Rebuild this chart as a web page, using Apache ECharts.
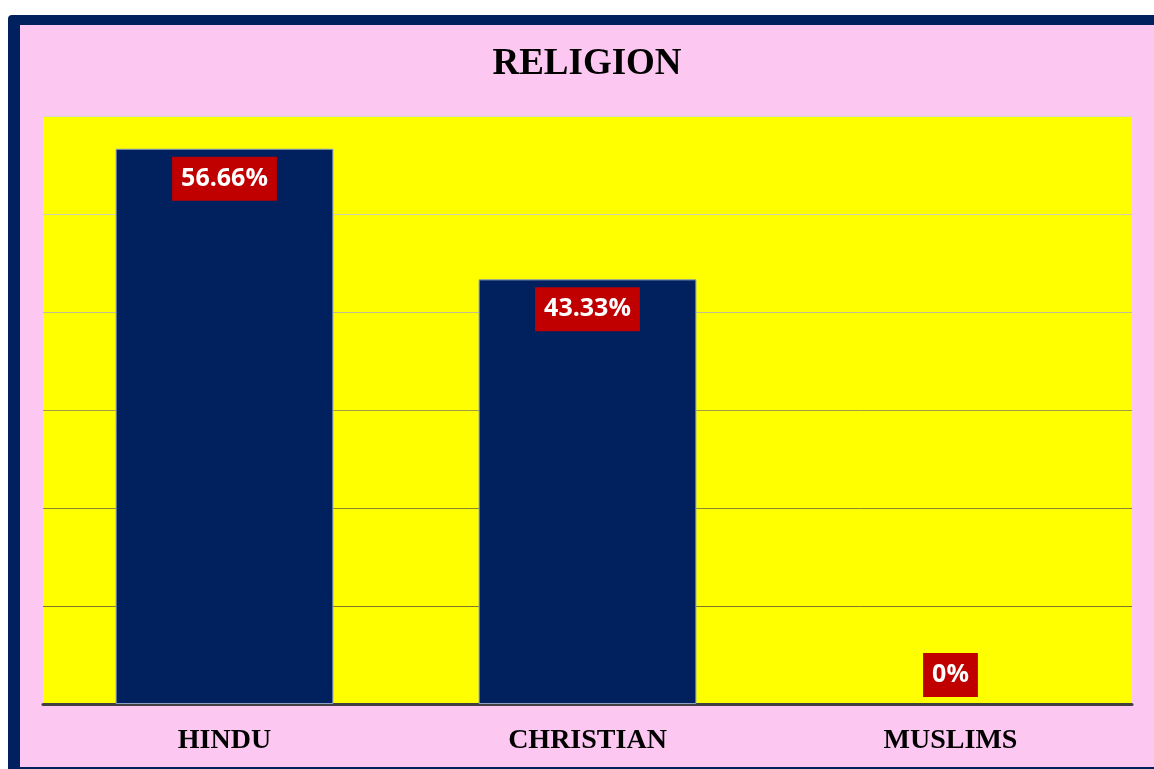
<!DOCTYPE html>
<html>
<head>
<meta charset="utf-8">
<script src="https://cdn.jsdelivr.net/npm/echarts@6/dist/echarts.min.js"></script>
<style>
html,body{margin:0;padding:0;background:#ffffff;}
#c{width:1154px;height:769px;}
</style>
</head>
<body>
<div id="c"></div>
<script>
const title = 'RELIGION';
const categories = ['HINDU', 'CHRISTIAN', 'MUSLIMS'];
const values = [56.66, 43.33, 0];
const labels = ['56.66%', '43.33%', '0%'];
const yMin = 0, yMax = 60, yInterval = 10;

const chart = echarts.init(document.getElementById('c'), null, {renderer: 'canvas'});
const seriesData = values.map((v, i) => {
  const item = {value: v, label: {formatter: labels[i]}};
  if (v === 0) {
    item.label.position = 'top'; item.label.distance = 7;
    item.itemStyle = {borderWidth: 0};
  }
  return item;
});
chart.setOption({
  backgroundColor: '#ffffff',
  animation: false,
  graphic: [
    {type: 'rect', left: 8, top: 15, z: -10, silent: true,
     shape: {width: 1160, height: 760, r: [4, 0, 0, 0]}, style: {fill: '#00205E'}},
    {type: 'rect', left: 20, top: 25, z: -9, silent: true,
     shape: {width: 1140, height: 742}, style: {fill: '#FCC7F0'}},
    {type: 'text', x: 587, y: 64, z: 10, silent: true,
     style: {text: title, fontFamily: 'Liberation Serif', fontWeight: 'bold', fontSize: 37,
             fill: '#000000', align: 'center', verticalAlign: 'middle'}}
  ],
  grid: {left: 43, right: 22, top: 116, bottom: 65, show: true, backgroundColor: '#FFFF00', borderWidth: 0},
  xAxis: {
    type: 'category', data: categories,
    axisLine: {lineStyle: {color: '#404040', width: 3}},
    axisTick: {show: false},
    axisLabel: {fontFamily: 'Liberation Serif', fontWeight: 'bold', fontSize: 28, color: '#000000', margin: 23}
  },
  yAxis: {
    type: 'value', min: yMin, max: yMax, interval: yInterval,
    axisLabel: {show: false}, axisLine: {show: false}, axisTick: {show: false},
    splitLine: {lineStyle: {width: 1, color: ['#a0a040', '#7a7a28', '#8a8a30', '#a0a040', '#c0c098', '#d0d0b0', '#d8d8c8']}}
  },
  series: [{
    type: 'bar', data: seriesData, barWidth: '60%',
    itemStyle: {color: '#00205E', borderColor: '#8fa0c8', borderWidth: 1},
    label: {
      show: true, position: 'insideTop', distance: 8,
      backgroundColor: '#C00000', color: '#ffffff', fontFamily: 'Open Sans',
      fontWeight: 'bold', fontSize: 25, lineHeight: 26, padding: [9, 9]
    }
  }]
});
</script>
</body>
</html>
